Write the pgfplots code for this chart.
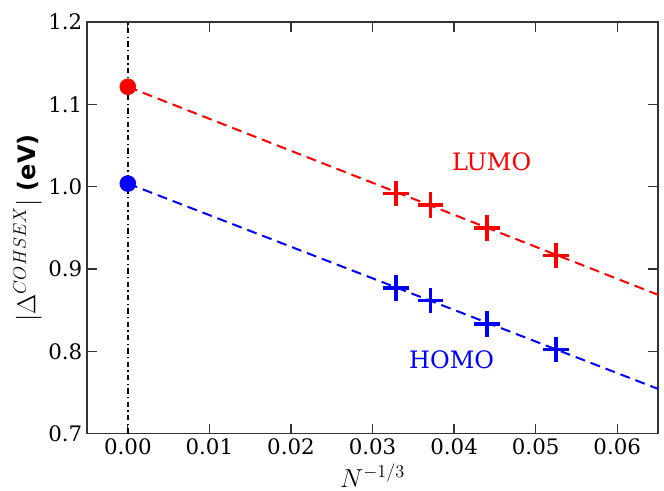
\RequirePackage{fix-cm}
\documentclass[border=0pt]{standalone}
\usepackage{fontspec}
\setmainfont{DejaVu Serif}
\setsansfont{DejaVu Sans}
\usepackage{pgfplots}
\pgfplotsset{compat=1.18}
\begin{document}
\begin{tikzpicture}
\begin{axis}[
    scale only axis,
    width=428pt, height=308.6pt,
    xmin=-0.005, xmax=0.065,
    ymin=0.7, ymax=1.2,
    xtick={0,0.01,...,0.061},
    ytick={0.7,0.8,...,1.21},
    tick align=inside,
    major tick length=7.5pt,
    tick style={line width=0.9pt, black!80},
    axis line style={line width=1.1pt, black!80},
    xticklabel style={/pgf/number format/.cd, fixed, fixed zerofill, precision=2, assume math mode=true},
    yticklabel style={/pgf/number format/.cd, fixed, fixed zerofill, precision=1, assume math mode=true},
    ticklabel style={font=\fontsize{16}{19}\selectfont},
    scaled x ticks=false,
    xlabel={$N^{-1/3}$},
    xlabel style={font=\fontsize{19.5}{23}\selectfont, inner sep=0pt, yshift=-3.5pt},
    ylabel={$|\Delta^{COHSEX}|$ {\fontsize{18}{21}\selectfont\sffamily\bfseries (eV)}},
    ylabel style={font=\fontsize{19.5}{23}\selectfont, yshift=-2pt},
    clip=false,
]
\addplot[black, line width=1.5pt, dash pattern=on 4pt off 2.5pt on 1pt off 2.5pt] coordinates {(0,0.7) (0,1.2)};
\addplot[red, line width=1.5pt, dash pattern=on 7.5pt off 4.5pt] coordinates {(0,1.1213) (0.065,0.8687)};
\addplot[blue, line width=1.5pt, dash pattern=on 7.5pt off 4.5pt] coordinates {(0,1.0038) (0.065,0.7544)};
\addplot[only marks, mark=*, mark size=6pt, red] coordinates {(0,1.1213)};
\addplot[only marks, mark=*, mark size=6pt, blue] coordinates {(0,1.0038)};
\addplot[only marks, mark=+, mark size=9.6pt, red, line width=2.8pt] coordinates {
  (0.0329,0.9916) (0.0371,0.9774) (0.0440,0.9498) (0.0525,0.9165)};
\addplot[only marks, mark=+, mark size=9.6pt, blue, line width=2.8pt] coordinates {
  (0.0329,0.8768) (0.0371,0.8618) (0.0440,0.8334) (0.0525,0.8022)};
\node[red, font=\fontsize{18}{21}\selectfont] at (axis cs:0.0446,1.030) {LUMO};
\node[blue, font=\fontsize{18}{21}\selectfont] at (axis cs:0.0397,0.790) {HOMO};
\end{axis}
\pgfresetboundingbox
\path[use as bounding box] ([shift={(-65.25pt,-42.4pt)}]current axis.south west) rectangle ([shift={(4.5pt,16.5pt)}]current axis.north east);
\end{tikzpicture}
\end{document}
